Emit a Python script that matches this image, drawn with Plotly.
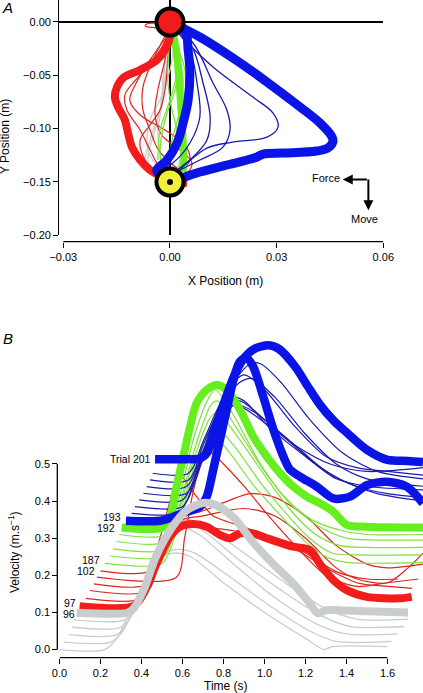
import plotly.graph_objects as go

W, H = 423, 693
FONT = "Arial, Liberation Sans, Helvetica, sans-serif"

# ---------------- Panel A: hand paths (m) ----------------
start_xy = [0.0, 0.0]
target_xy = [0.0, -0.15]

blueA_thick_x = [[0, 0.0084, 0.0177, 0.0273, 0.0366, 0.0422, 0.0456, 0.0458, 0.0444, 0.0413, 0.0318, 0.0262, 0.0245, 0.0217, 0.0160, 0.0084, 0.0034, 0.0006],
                 [0, 0.0042, 0.0051, 0.0056, 0.0051, 0.0037, 0.0020, -0.0008, -0.0037, -0.0028]]
blueA_thick_y = [[0, -0.0141, -0.0338, -0.0563, -0.0797, -0.0947, -0.1079, -0.1126, -0.1182, -0.1210, -0.1229, -0.1238, -0.1266, -0.1294, -0.1341, -0.1407, -0.1463, -0.1501],
                 [0, -0.0075, -0.0263, -0.0478, -0.0732, -0.0947, -0.1135, -0.1294, -0.1388, -0.1435]]
blueA_thin_x = [[0.0006, 0.0042, 0.0121, 0.0233, 0.0290, 0.0304, 0.0273, 0.0177, 0.0104, 0.0048, 0.0014],
                [0.0006, 0.0065, 0.0121, 0.0160, 0.0169, 0.0149, 0.0084, 0.0028],
                [0.0006, 0.0062, 0.0093, 0.0113, 0.0104, 0.0065, 0.0020],
                [0.0006, 0.0056, 0.0076, 0.0084, 0.0056, 0.0008, -0.0037]]
blueA_thin_y = [[-0.0028, -0.0169, -0.0422, -0.0704, -0.0854, -0.0985, -0.1079, -0.1126, -0.1182, -0.1323, -0.1435],
                [-0.0028, -0.0197, -0.0572, -0.0825, -0.1013, -0.1173, -0.1294, -0.1388],
                [-0.0028, -0.0234, -0.0572, -0.0891, -0.1107, -0.1266, -0.1388],
                [-0.0028, -0.0263, -0.0572, -0.0891, -0.1135, -0.1323, -0.1407]]
redA_thick_x = [0, 0, -0.0014, -0.0037, -0.0084, -0.0132, -0.0149, -0.0155, -0.0146, -0.0127, -0.0118, -0.0107, -0.0084, -0.0056, -0.0020, 0.0028, 0.0048]
redA_thick_y = [0, -0.0141, -0.0263, -0.0356, -0.0450, -0.0525, -0.0610, -0.0704, -0.0797, -0.0919, -0.1041, -0.1173, -0.1294, -0.1388, -0.1454, -0.1501, -0.1510]
redA_thin_x = [[-0.0028, -0.0065, -0.0070, -0.0037, -0.0008, -0.0020, -0.0048, -0.0076, -0.0076, -0.0056, -0.0037, -0.0008, 0.0028],
               [0, -0.0028, -0.0084, -0.0127, -0.0121, -0.0084, -0.0056, -0.0028, 0],
               [0, -0.0014, -0.0034, -0.0042, -0.0023, 0.0028, 0.0062, 0.0042, 0.0006],
               [0, -0.0006, -0.0014, -0.0028, -0.0056, -0.0084, -0.0070, -0.0028],
               [-0.0006, -0.0056, -0.0098, -0.0113, -0.0084, -0.0014, 0.0042, 0.0056, 0.0014]]
redA_thin_y = [[-0.0009, -0.0019, -0.0038, -0.0056, -0.0075, -0.0169, -0.0356, -0.0610, -0.0825, -0.1013, -0.1173, -0.1294, -0.1388],
               [-0.0075, -0.0263, -0.0497, -0.0685, -0.0825, -0.1013, -0.1201, -0.1369, -0.1463],
               [-0.0075, -0.0356, -0.0638, -0.0872, -0.1060, -0.1201, -0.1323, -0.1435, -0.1482],
               [-0.0075, -0.0356, -0.0638, -0.0825, -0.0966, -0.1107, -0.1294, -0.1435],
               [-0.0122, -0.0356, -0.0591, -0.0732, -0.0872, -0.1013, -0.1154, -0.1294, -0.1463]]
grayA_thick_x = [0.0006, 0.0020, 0.0028, 0.0034, 0.0037, 0.0034, 0.0023]
grayA_thick_y = [-0.0056, -0.0263, -0.0544, -0.0825, -0.1107, -0.1294, -0.1435]
grayA_thin_x = [[-0.0006, -0.0014, -0.0023, -0.0042, -0.0062, -0.0042],
                [-0.0008, -0.0020, -0.0028, -0.0056, -0.0070, -0.0028],
                [0, -0.0011, -0.0020, -0.0034, -0.0020],
                [0.0014, 0, -0.0028, -0.0056, -0.0062, -0.0014]]
grayA_thin_y = [[-0.0122, -0.0356, -0.0732, -0.1013, -0.1294, -0.1435],
                [-0.0169, -0.0544, -0.0825, -0.1107, -0.1341, -0.1463],
                [-0.0122, -0.0450, -0.0732, -0.1060, -0.1341],
                [-0.0169, -0.0450, -0.0732, -0.0919, -0.1201, -0.1435]]
greenA_thick_x = [0.0006, 0.0017, 0.0025, 0.0031, 0.0037, 0.0039, 0.0037]
greenA_thick_y = [-0.0056, -0.0263, -0.0544, -0.0825, -0.1107, -0.1294, -0.1407]
greenA_thin_x = [[0.0014, 0.0028, 0.0014, -0.0014, -0.0028, -0.0023],
                 [0.0008, 0.0020, 0, -0.0028, -0.0034],
                 [0.0014, 0.0037, 0.0028, 0.0006, -0.0006],
                 [0.0006, 0.0042, 0.0042, 0.0023, 0],
                 [0, -0.0006, 0.0006, 0.0028, 0.0042]]
greenA_thin_y = [[-0.0122, -0.0356, -0.0638, -0.0919, -0.1201, -0.1388],
                 [-0.0122, -0.0450, -0.0732, -0.1013, -0.1294],
                 [-0.0169, -0.0544, -0.0825, -0.1107, -0.1341],
                 [-0.0122, -0.0450, -0.0732, -0.1013, -0.1294],
                 [-0.0169, -0.0544, -0.0825, -0.1107, -0.1341]]

# ---------------- Panel B: velocity profiles (s, m/s, offset) ----------------
grayB_thin_t = [[0.00, 0.22, 0.28, 0.34, 0.42, 0.50, 0.56, 0.64, 0.80, 1.00, 1.20, 1.29, 1.33, 1.60],
                [0.02, 0.25, 0.31, 0.37, 0.45, 0.52, 0.58, 0.66, 0.82, 1.02, 1.22, 1.35, 1.62],
                [0.045, 0.28, 0.34, 0.40, 0.48, 0.55, 0.60, 0.68, 0.85, 1.05, 1.25, 1.40, 1.65],
                [0.06, 0.30, 0.36, 0.42, 0.50, 0.57, 0.62, 0.70, 0.88, 1.08, 1.28, 1.42, 1.68],
                [0.07, 0.32, 0.38, 0.44, 0.52, 0.58, 0.63, 0.72, 0.90, 1.10, 1.30, 1.45, 1.70]]
grayB_thin_v = [[0.000, 0.000, 0.03, 0.10, 0.19, 0.25, 0.26, 0.25, 0.18, 0.10, 0.03, 0.000, 0.008, 0.008],
                [0.02, 0.02, 0.05, 0.12, 0.21, 0.26, 0.27, 0.26, 0.20, 0.12, 0.05, 0.022, 0.022],
                [0.04, 0.04, 0.08, 0.16, 0.26, 0.32, 0.33, 0.31, 0.23, 0.14, 0.07, 0.042, 0.042],
                [0.06, 0.06, 0.10, 0.18, 0.28, 0.33, 0.34, 0.32, 0.24, 0.16, 0.09, 0.062, 0.062],
                [0.08, 0.08, 0.12, 0.20, 0.29, 0.34, 0.35, 0.33, 0.26, 0.18, 0.11, 0.082, 0.082]]
redB_thin_t = [[0.128, 0.40, 0.46, 0.52, 0.58, 0.62, 0.70, 0.85, 1.00, 1.15, 1.30, 1.45, 1.60, 1.72],
               [0.148, 0.43, 0.50, 0.58, 0.68, 0.82, 0.93, 1.05, 1.20, 1.35, 1.50, 1.60, 1.773],
               [0.168, 0.44, 0.52, 0.60, 0.70, 0.90, 1.05, 1.20, 1.35, 1.45, 1.60, 1.70, 1.773],
               [0.182, 0.57, 0.61, 0.65, 0.69, 0.74, 0.80, 0.90, 1.02, 1.15, 1.30, 1.45, 1.60, 1.75],
               [0.20, 0.44, 0.49, 0.55, 0.59, 0.63, 0.70, 0.75, 0.90, 1.05, 1.20, 1.35, 1.50, 1.65]]
redB_thin_v = [[0.138, 0.138, 0.22, 0.30, 0.33, 0.34, 0.33, 0.32, 0.30, 0.27, 0.22, 0.18, 0.17, 0.165],
               [0.159, 0.159, 0.28, 0.36, 0.37, 0.40, 0.42, 0.41, 0.36, 0.28, 0.23, 0.22, 0.23],
               [0.177, 0.177, 0.30, 0.35, 0.36, 0.38, 0.36, 0.30, 0.22, 0.19, 0.18, 0.22, 0.26],
               [0.195, 0.195, 0.30, 0.42, 0.50, 0.53, 0.50, 0.44, 0.36, 0.28, 0.20, 0.17, 0.18, 0.19],
               [0.212, 0.212, 0.30, 0.42, 0.47, 0.44, 0.39, 0.36, 0.33, 0.30, 0.26, 0.21, 0.19, 0.19]]
greenB_thin_t = [[0.222, 0.50, 0.56, 0.64, 0.71, 0.76, 0.83, 0.95, 1.08, 1.20, 1.30, 1.40, 1.773],
                 [0.246, 0.51, 0.56, 0.65, 0.72, 0.76, 0.85, 0.98, 1.10, 1.22, 1.33, 1.45, 1.773],
                 [0.262, 0.52, 0.57, 0.66, 0.73, 0.77, 0.86, 1.00, 1.12, 1.25, 1.37, 1.50, 1.773],
                 [0.279, 0.52, 0.58, 0.67, 0.74, 0.77, 0.86, 1.00, 1.13, 1.27, 1.40, 1.55, 1.773],
                 [0.292, 0.52, 0.58, 0.66, 0.73, 0.76, 0.85, 0.98, 1.10, 1.23, 1.38, 1.50, 1.773]]
greenB_thin_v = [[0.232, 0.232, 0.30, 0.45, 0.55, 0.57, 0.53, 0.44, 0.36, 0.29, 0.25, 0.235, 0.235],
                 [0.252, 0.252, 0.32, 0.48, 0.58, 0.60, 0.55, 0.45, 0.37, 0.30, 0.26, 0.255, 0.255],
                 [0.271, 0.271, 0.35, 0.52, 0.62, 0.64, 0.58, 0.47, 0.38, 0.31, 0.28, 0.275, 0.275],
                 [0.291, 0.291, 0.38, 0.56, 0.66, 0.67, 0.60, 0.48, 0.39, 0.33, 0.30, 0.295, 0.295],
                 [0.310, 0.310, 0.40, 0.58, 0.68, 0.70, 0.63, 0.50, 0.41, 0.35, 0.32, 0.31, 0.31]]
blueB_thin_t = [[0.352, 0.58, 0.62, 0.70, 0.78, 0.86, 0.95, 1.08, 1.25, 1.40, 1.55, 1.773],
                [0.368, 0.60, 0.66, 0.74, 0.82, 0.88, 1.00, 1.15, 1.30, 1.45, 1.60, 1.773],
                [0.389, 0.60, 0.67, 0.76, 0.84, 0.90, 1.02, 1.20, 1.35, 1.50, 1.773],
                [0.409, 0.62, 0.68, 0.78, 0.88, 0.94, 1.05, 1.20, 1.35, 1.50, 1.773],
                [0.425, 0.62, 0.69, 0.80, 0.93, 0.98, 1.08, 1.22, 1.38, 1.55, 1.773],
                [0.441, 0.63, 0.70, 0.78, 0.86, 0.98, 1.15, 1.32, 1.50, 1.773],
                [0.455, 0.63, 0.70, 0.82, 0.90, 1.00, 1.15, 1.30, 1.45, 1.60, 1.773]]
blueB_thin_v = [[0.367, 0.367, 0.40, 0.52, 0.62, 0.66, 0.64, 0.58, 0.50, 0.45, 0.42, 0.40],
                [0.385, 0.385, 0.45, 0.58, 0.66, 0.67, 0.62, 0.55, 0.48, 0.44, 0.42, 0.41],
                [0.403, 0.403, 0.48, 0.62, 0.68, 0.67, 0.60, 0.52, 0.46, 0.44, 0.43],
                [0.421, 0.421, 0.50, 0.65, 0.72, 0.73, 0.68, 0.58, 0.50, 0.46, 0.44],
                [0.439, 0.439, 0.52, 0.68, 0.77, 0.77, 0.72, 0.62, 0.53, 0.48, 0.46],
                [0.457, 0.457, 0.55, 0.64, 0.66, 0.62, 0.55, 0.50, 0.48, 0.49],
                [0.475, 0.475, 0.56, 0.70, 0.74, 0.70, 0.60, 0.52, 0.49, 0.48, 0.47]]

gray96_t = [0.084, 0.33, 0.36, 0.41, 0.47, 0.55, 0.62, 0.70, 0.76, 0.85, 0.95, 1.04, 1.14, 1.22, 1.26, 1.30, 1.36, 1.50, 1.70]
gray96_v = [0.099, 0.099, 0.11, 0.16, 0.25, 0.33, 0.375, 0.395, 0.39, 0.355, 0.285, 0.232, 0.178, 0.125, 0.098, 0.106, 0.106, 0.103, 0.100]
red97_t = [0.098, 0.36, 0.41, 0.474, 0.539, 0.588, 0.653, 0.718, 0.783, 0.832, 0.88, 0.945, 1.011, 1.14, 1.222, 1.271, 1.336, 1.401, 1.499, 1.661, 1.718]
red97_v = [0.117, 0.117, 0.151, 0.232, 0.304, 0.331, 0.338, 0.331, 0.309, 0.300, 0.313, 0.313, 0.300, 0.277, 0.268, 0.230, 0.187, 0.160, 0.142, 0.138, 0.142]
green192_t = [0.303, 0.506, 0.539, 0.571, 0.604, 0.637, 0.669, 0.718, 0.767, 0.816, 0.88, 0.945, 1.011, 1.076, 1.14, 1.206, 1.271, 1.336, 1.401, 1.499, 1.773]
green192_v = [0.329, 0.329, 0.358, 0.439, 0.520, 0.601, 0.664, 0.700, 0.713, 0.700, 0.647, 0.574, 0.520, 0.475, 0.439, 0.412, 0.394, 0.371, 0.336, 0.331, 0.329]
blue193_t = [0.324, 0.49, 0.555, 0.62, 0.685, 0.718, 0.75, 0.783, 0.816, 0.848, 0.88, 0.913, 0.945, 0.994, 1.043, 1.092, 1.124, 1.173, 1.255, 1.336, 1.417, 1.499, 1.596, 1.694, 1.773]
blue193_v = [0.347, 0.347, 0.358, 0.371, 0.385, 0.412, 0.485, 0.566, 0.647, 0.726, 0.776, 0.785, 0.762, 0.681, 0.593, 0.520, 0.485, 0.466, 0.439, 0.407, 0.412, 0.443, 0.452, 0.439, 0.394]
blue201_t = [0.466, 0.62, 0.685, 0.72, 0.76, 0.80, 0.85, 0.90, 0.95, 1.02, 1.07, 1.15, 1.21, 1.27, 1.34, 1.40, 1.50, 1.60, 1.70, 1.773]
blue201_v = [0.513, 0.513, 0.515, 0.53, 0.59, 0.66, 0.735, 0.785, 0.81, 0.82, 0.81, 0.762, 0.71, 0.66, 0.615, 0.585, 0.538, 0.511, 0.508, 0.505]

trial_labels = ["Trial 201", "193", "192", "187", "102", "97", "96"]
trial_label_t = [0.455, 0.31, 0.282, 0.207, 0.183, 0.088, 0.083]
trial_label_v = [0.513, 0.356, 0.327, 0.240, 0.211, 0.126, 0.097]

xA_ticks = [-0.03, 0.0, 0.03, 0.06]
yA_ticks = [-0.20, -0.15, -0.10, -0.05, 0.0]
xB_ticks = [0.0, 0.2, 0.4, 0.6, 0.8, 1.0, 1.2, 1.4, 1.6]
yB_ticks = [0.0, 0.1, 0.2, 0.3, 0.4, 0.5]

# colours
BLUE, BLUE_T = "#0a14e6", "#1a1ab0"
RED, RED_T = "#f21c1c", "#e0241c"
GREEN, GREEN_T = "#66ee1e", "#7fe23c"
GRAY, GRAY_T = "#c9cdcd", "#c9cdcd"

fig = go.Figure()

def add(x, y, color, width, ax="A", smooth=1.0):
    fig.add_trace(go.Scatter(x=x, y=y, mode="lines",
                             line=dict(color=color, width=width, shape="spline", smoothing=smooth),
                             xaxis="x" if ax == "A" else "x2", yaxis="y" if ax == "A" else "y2",
                             hoverinfo="skip", showlegend=False))

# Panel A traces
for xs, ys in zip(grayA_thin_x, grayA_thin_y):
    add(xs, ys, GRAY_T, 1.3)
for xs, ys in zip(redA_thin_x, redA_thin_y):
    add(xs, ys, RED_T, 1.2)
add(grayA_thick_x, grayA_thick_y, GRAY, 6)
for xs, ys in zip(greenA_thin_x, greenA_thin_y):
    add(xs, ys, GREEN_T, 1.3)
add(greenA_thick_x, greenA_thick_y, GREEN, 7)
add(redA_thick_x, redA_thick_y, RED, 8)
for xs, ys in zip(blueA_thin_x, blueA_thin_y):
    add(xs, ys, BLUE_T, 1.3)
for xs, ys in zip(blueA_thick_x, blueA_thick_y):
    add(xs, ys, BLUE, 9)

fig.add_trace(go.Scatter(x=[start_xy[0]], y=[start_xy[1]], mode="markers",
                         marker=dict(size=27, color="#f01c1c", line=dict(color="black", width=4)),
                         hoverinfo="skip", showlegend=False))
fig.add_trace(go.Scatter(x=[target_xy[0]], y=[target_xy[1]], mode="markers",
                         marker=dict(size=27, color="#f0f03a", line=dict(color="black", width=4)),
                         hoverinfo="skip", showlegend=False))
fig.add_trace(go.Scatter(x=[target_xy[0]], y=[target_xy[1]], mode="markers",
                         marker=dict(size=6, color="black", symbol="circle"),
                         hoverinfo="skip", showlegend=False))

# Panel B traces
for ts, vs in zip(grayB_thin_t, grayB_thin_v):
    add(ts, vs, GRAY_T, 1.3, "B", 0.8)
for ts, vs in zip(redB_thin_t, redB_thin_v):
    add(ts, vs, RED_T, 1.2, "B", 0.8)
for ts, vs in zip(greenB_thin_t, greenB_thin_v):
    add(ts, vs, GREEN_T, 1.2, "B", 0.8)
for ts, vs in zip(blueB_thin_t, blueB_thin_v):
    add(ts, vs, BLUE_T, 1.2, "B", 0.8)
add(green192_t, green192_v, GREEN, 8, "B", 0.8)
add(blue193_t, blue193_v, BLUE, 8.5, "B", 0.8)
add(blue201_t, blue201_v, BLUE, 8.5, "B", 0.8)
add(red97_t, red97_v, RED, 8, "B", 0.8)
add(gray96_t, gray96_v, GRAY, 8, "B", 0.8)

def py(p):
    return 1 - p / H

axis_common = dict(showgrid=False, ticks="outside", ticklen=5, tickwidth=1.3, tickcolor="black",
                   automargin=False,
                   tickfont=dict(family=FONT, size=11, color="black"), fixedrange=True)

def label(text, x, y, size=12, angle=0, xref="paper", yref="paper", xanchor="center"):
    return dict(text=text, x=x, y=y, xref=xref, yref=yref, showarrow=False, textangle=angle,
                xanchor=xanchor, yanchor="middle", font=dict(family=FONT, size=size, color="black"))

annotations = [
    label("<i>A</i>", 7.5 / W, py(8), 15),
    label("<i>B</i>", 7.5 / W, py(338), 15),
    label("X Position (m)", 225 / W, py(281)),
    label("Y Position (m)", 5 / W, py(137), angle=-90),
    label("Time (s)", 226 / W, py(686)),
    label("Velocity (m.s<sup>−1</sup>)", 14 / W, py(552), angle=-90),
    label("Force", 0.0438, -0.1466, 11, xref="x", yref="y"),
    label("Move", 0.0548, -0.1851, 11, xref="x", yref="y"),
    dict(text="", x=0.0486, y=-0.1476, ax=0.0558, ay=-0.1476, xref="x", yref="y", axref="x", ayref="y",
         showarrow=True, arrowhead=2, arrowsize=1, arrowwidth=2, arrowcolor="black"),
    dict(text="", x=0.0558, y=-0.1764, ax=0.0558, ay=-0.1462, xref="x", yref="y", axref="x", ayref="y",
         showarrow=True, arrowhead=2, arrowsize=1, arrowwidth=2, arrowcolor="black"),
]
for lab, t, v in zip(trial_labels, trial_label_t, trial_label_v):
    annotations.append(label(lab, t, v, 10.5, xref="x2", yref="y2", xanchor="right"))

shapes = [
    dict(type="line", xref="x", yref="paper", x0=-0.03, x1=0.06, y0=py(241.7), y1=py(241.7),
         line=dict(color="black", width=1.3)),
    dict(type="line", xref="x2", yref="paper", x0=0.0, x1=1.6, y0=py(657.7), y1=py(657.7),
         line=dict(color="black", width=1.3)),
    dict(type="line", xref="paper", yref="y2", x0=57.3 / W, x1=57.3 / W, y0=0.0, y1=0.5,
         line=dict(color="black", width=1.3)),
]

fig.update_layout(
    template="none",
    width=W, height=H, autosize=False,
    margin=dict(l=0, r=0, t=0, b=0, pad=0),
    paper_bgcolor="white", plot_bgcolor="white",
    showlegend=False, hovermode=False,
    font=dict(family=FONT, size=11, color="black"),
    xaxis=dict(domain=[59.3 / W, 383.3 / W], range=[-0.03113, 0.06], anchor="free", position=py(241.7),
               tickvals=xA_ticks, tickformat=".2f", showline=False,
               zeroline=True, zerolinecolor="black", zerolinewidth=1.5, **axis_common),
    yaxis=dict(domain=[py(235.3), 1], range=[-0.2, 0.0206], anchor="x",
               tickvals=yA_ticks, tickformat=".2f", showline=True, linecolor="black", linewidth=1.3,
               zeroline=True, zerolinecolor="black", zerolinewidth=1.5, **axis_common),
    xaxis2=dict(domain=[59.5 / W, 1], range=[0, 1.773], anchor="y2",
                tickvals=xB_ticks, tickformat=".1f", showline=False, zeroline=False, **axis_common),
    yaxis2=dict(domain=[py(657.7), py(340)], range=[-0.022, 0.834], anchor="free", position=57.3 / W,
                tickvals=yB_ticks, tickformat=".1f", showline=False, zeroline=False, **axis_common),
    annotations=annotations,
    shapes=shapes,
)

fig.write_html("out.html", config={"displayModeBar": False},
               post_script="document.body.style.margin='0';document.body.style.overflow='hidden';")
